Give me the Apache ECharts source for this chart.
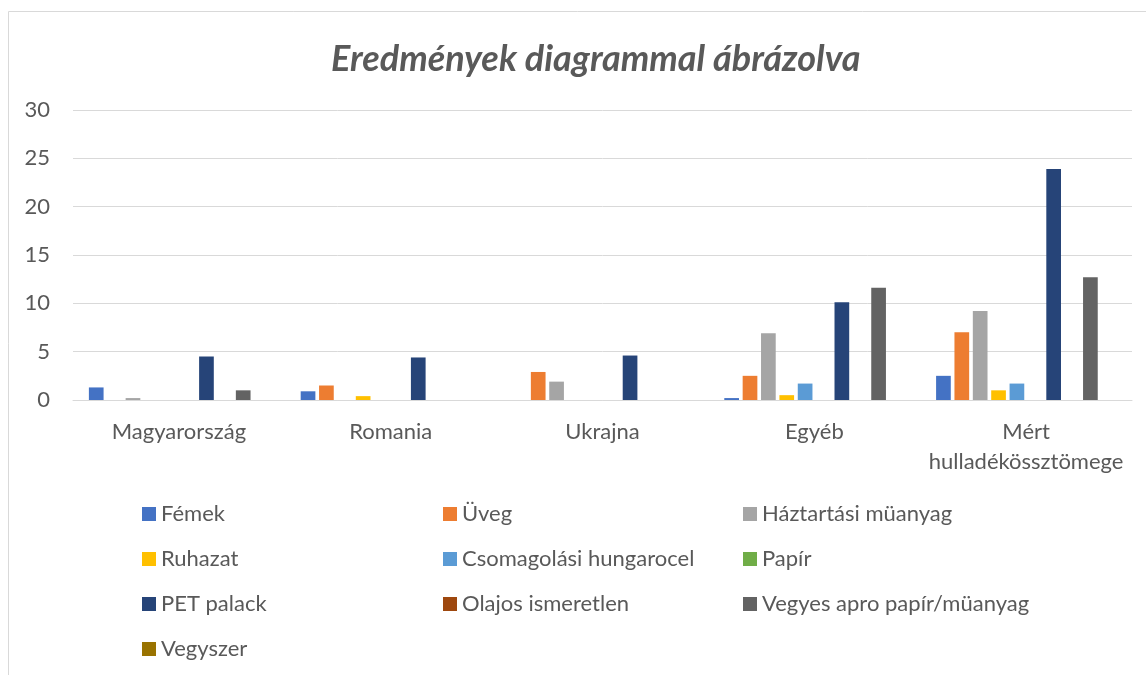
<!DOCTYPE html>
<html>
<head>
<meta charset="utf-8">
<script src="https://cdn.jsdelivr.net/npm/echarts@6/dist/echarts.min.js"></script>
<style>
  html, body { margin: 0; padding: 0; background: #fff; }
  #chart { width: 1146px; height: 675px; }
</style>
</head>
<body>
<div id="chart"></div>
<script>
// kategóriák és értékek
const categories = ['Magyarország', 'Romania', 'Ukrajna', 'Egyéb', 'Mért hulladékössztömege'];
const seriesNames = ['Fémek', 'Üveg', 'Háztartási müanyag', 'Ruhazat', 'Csomagolási hungarocel',
  'Papír', 'PET palack', 'Olajos ismeretlen', 'Vegyes apro papír/müanyag', 'Vegyszer'];
const femek = [1.3, 0.9, 0, 0.2, 2.5];
const uveg = [0, 1.5, 2.9, 2.5, 7.0];
const haztartasi = [0.2, 0, 1.9, 6.9, 9.2];
const ruhazat = [0, 0.4, 0, 0.5, 1.0];
const csomagolasi = [0, 0, 0, 1.7, 1.7];
const papir = [0, 0, 0, 0, 0];
const petPalack = [4.5, 4.4, 4.6, 10.1, 23.9];
const olajos = [0, 0, 0, 0, 0];
const vegyes = [1.0, 0, 0, 11.6, 12.7];
const vegyszer = [0, 0, 0, 0, 0];
const yTicks = [0, 5, 10, 15, 20, 25, 30];

const values = [femek, uveg, haztartasi, ruhazat, csomagolasi, papir, petPalack, olajos, vegyes, vegyszer];
const colors = ['#4472C4', '#ED7D31', '#A5A5A5', '#FFC000', '#5B9BD5',
  '#70AD47', '#264478', '#9E480E', '#636363', '#997300'];

const font = 'Lato, sans-serif';
const textColor = '#595959';

function legendCol(left, names) {
  return {
    orient: 'vertical',
    left: left,
    top: 503,
    padding: 0,
    itemWidth: 14,
    itemHeight: 14,
    itemGap: 23,
    icon: 'rect',
    data: names,
    textStyle: { fontFamily: font, fontSize: 22, color: textColor, lineHeight: 22 }
  };
}

let myChart = echarts.init(document.getElementById('chart'));
myChart.setOption({
  animation: false,
  color: colors,
  title: {
    text: 'Eredmények diagrammal ábrázolva',
    left: 331,
    top: 41,
    padding: 0,
    textStyle: { fontFamily: font, fontSize: 36, fontStyle: 'italic', fontWeight: 'bold', color: textColor }
  },
  graphic: [{
    type: 'rect',
    silent: true,
    shape: { x: 8.5, y: 11.5, width: 1200, height: 700 },
    style: { fill: 'none', stroke: '#D9D9D9', lineWidth: 1 }
  }],
  legend: [
    legendCol(142, ['Fémek', 'Ruhazat', 'PET palack', 'Vegyszer']),
    legendCol(443, ['Üveg', 'Csomagolási hungarocel', 'Olajos ismeretlen']),
    legendCol(743, ['Háztartási müanyag', 'Papír', 'Vegyes apro papír/müanyag'])
  ],
  grid: { left: 73, right: 14, top: 110, bottom: 275 },
  xAxis: {
    type: 'category',
    data: categories,
    axisLine: { lineStyle: { color: '#D9D9D9', width: 1 } },
    axisTick: { show: false },
    axisLabel: {
      interval: 0,
      fontFamily: font, fontSize: 22, color: textColor, lineHeight: 30, margin: 17,
      formatter: v => v.length > 15 ? v.replace(' ', '\n') : v
    }
  },
  yAxis: {
    type: 'value',
    min: yTicks[0],
    max: yTicks[yTicks.length - 1],
    interval: 5,
    axisLine: { show: false },
    axisTick: { show: false },
    splitLine: { lineStyle: { color: '#D9D9D9', width: 1 } },
    axisLabel: { fontFamily: font, fontSize: 22, color: textColor, margin: 23 }
  },
  series: seriesNames.map((name, i) => ({
    name: name,
    type: 'bar',
    data: values[i],
    barGap: '25%',
    barCategoryGap: '15%'
  }))
});
</script>
</body>
</html>
